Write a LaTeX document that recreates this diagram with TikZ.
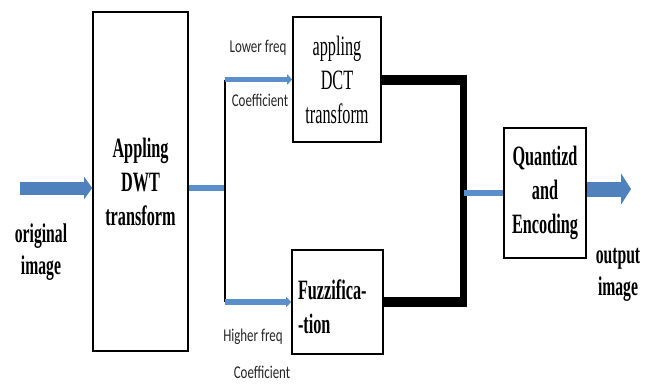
\documentclass[tikz,border=0pt]{standalone}
\usepackage{fontspec}
\setmainfont{Liberation Serif}
\newfontfamily\cserif[FakeStretch=0.58]{Liberation Serif}
\newfontfamily\csans[FakeStretch=0.72]{Carlito}
\usetikzlibrary{arrows.meta,calc}
\definecolor{arrowblue}{HTML}{4F81BD}
\definecolor{lineblue}{HTML}{5B8FCB}
\begin{document}
\begin{tikzpicture}[x=1pt,y=-1pt,
  box/.style={draw=black, line width=1.6pt, inner sep=0pt, align=center},
  bfont/.style={font=\cserif\bfseries\fontsize{28}{34}\selectfont},
  rfont/.style={font=\cserif\fontsize{28}{34}\selectfont},
  lbl/.style={font=\cserif\bfseries\fontsize{27}{32}\selectfont, align=center, inner sep=0pt},
  slbl/.style={font=\csans\fontsize{18}{20}\selectfont, inner sep=0pt, text=black!85},
  bigarrow/.style={draw=arrowblue, line width=13pt, -{Triangle[length=8pt,width=22pt]}},
  outarrow/.style={draw=arrowblue, line width=15pt, -{Triangle[length=10pt,width=31pt]}},
  blueline/.style={draw=lineblue, line width=5.5pt},
  bluebranch/.style={draw=lineblue, line width=5.5pt, -{Triangle[length=5pt,width=10pt]}},
  thickblk/.style={draw=black, line width=10pt},
  thickvert/.style={draw=black, line width=7pt},
  junction/.style={draw=black, line width=2pt}
]
\useasboundingbox (0,0) rectangle (650,383);

% boxes
\node[box, bfont, minimum width=95pt, minimum height=339pt] (dwt) at (140.5,181.5) {Appling\\DWT\\transform};
\node[box, rfont, minimum width=88pt, minimum height=125pt] (dct) at (337,79.5) {appling\\DCT\\transform};
\node[box, bfont, align=left, text width=79pt, minimum width=91pt, minimum height=104pt] (fuzz) at (337.5,302) {\rule{0pt}{29pt}Fuzzifica-\\-tion};
\node[box, bfont, minimum width=82pt, minimum height=130pt] (quant) at (545,193) {Quantizd\\and\\Encoding};

% labels
\node[lbl] (orig) at (41,252) {original\\image};
\node[lbl] (outl) at (618,275) {output\\image};
\node[slbl] (lf) at (258,48) {Lower freq};
\node[slbl] (lc) at (260,100) {Coefficient};
\node[slbl] (hf) at (253,337) {Higher freq};
\node[slbl] (hc) at (262,372) {Coefficient};

% coordinates
\coordinate (inS) at (20,188);
\coordinate (jm) at (225,188);
\coordinate (jt) at (225,79.5);
\coordinate (jb) at (225,302);
\coordinate (rt) at (467,79.5);
\coordinate (rb) at (467,302);
\coordinate (vt) at (463.5,74.5);
\coordinate (vb) at (463.5,307);
\coordinate (qj) at (463.5,193);
\coordinate (outE) at (631,189);

% input arrow
\draw[bigarrow] (inS) -- (dwt.west |- inS);
% split
\draw[blueline] (dwt.east |- jm) -- (jm);
\draw[junction] (jt) -- (jb);
\draw[bluebranch] (jt) -- (dct.west);
\draw[bluebranch] (jb) -- (fuzz.west);
% merge
\draw[thickblk] (dct.east) -- (rt);
\draw[thickblk] (fuzz.east) -- (rb);
\draw[thickvert] (vt) -- (vb);
\draw[blueline] (qj) -- (quant.west);
% output arrow
\draw[outarrow] (quant.east |- outE) -- (outE);
\end{tikzpicture}
\end{document}
